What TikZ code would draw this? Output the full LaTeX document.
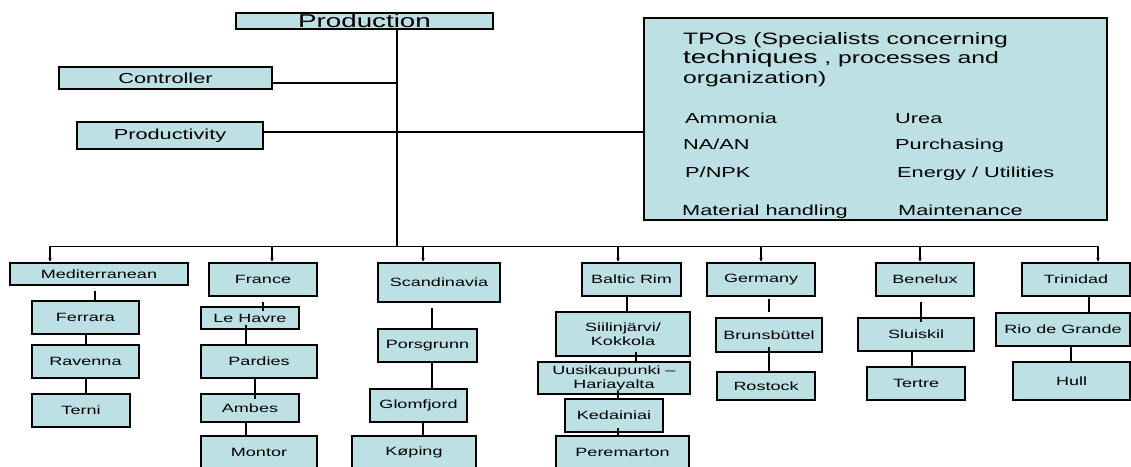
\documentclass[tikz,border=0pt]{standalone}
\usepackage{fontspec}
\setmainfont{Liberation Sans}[FakeStretch=1.5]
\usetikzlibrary{arrows.meta}
\definecolor{boxfill}{RGB}{188,224,228}

\begin{document}
\begin{tikzpicture}[x=1pt,y=-1pt,
    unit/.style={draw,fill=boxfill,line width=1.6pt,inner sep=0pt,align=center,font=\fontsize{12}{14}\selectfont},
    link/.style={line width=1.2pt},
    feed/.style={line width=1.2pt,-{Latex[length=4pt,width=3.5pt]}},
    item/.style={anchor=base west,inner sep=0pt,font=\fontsize{14.5}{17}\selectfont}]
    \useasboundingbox (0,0) rectangle (1131,466);
    \clip (0,0) rectangle (1131,466);

    \node[unit,minimum width=257,minimum height=16,font=\fontsize{18.5}{20}\selectfont] (prod) at (364.5,21) {Production};
    \node[unit,minimum width=213,minimum height=22,font=\fontsize{14.5}{17}\selectfont] (ctrl) at (165.5,78) {Controller};
    \node[unit,minimum width=186,minimum height=27,font=\fontsize{14.5}{17}\selectfont] (prodv) at (170,135.5) {Productivity};
    \node[unit,minimum width=463,minimum height=202] (tpo) at (875.5,119) {};
    \node[anchor=north west,inner sep=0pt,align=left,font=\fontsize{16.5}{19.5}\selectfont] (tpotitle) at (683,32)
      {TPOs (Specialists concerning\\{\fontsize{18.5}{19.5}\selectfont techniques} , processes and\\organization)};
    \node[item] (amm) at (685,123) {Ammonia};
    \node[item] (urea) at (895,123) {Urea};
    \node[item] (naan) at (683,149) {NA/AN};
    \node[item] (purch) at (895,149) {Purchasing};
    \node[item] (pnpk) at (685,177) {P/NPK};
    \node[item] (energy) at (897,177) {Energy / Utilities};
    \node[item] (mat) at (682,215) {Material handling};
    \node[item] (maint) at (898,215) {Maintenance};

    \node[unit,minimum width=178,minimum height=22] (med) at (99,274) {Mediterranean};
    \node[unit,minimum width=107,minimum height=33] (fer) at (85.5,317.5) {Ferrara};
    \node[unit,minimum width=107,minimum height=33] (rav) at (85.5,361.5) {Ravenna};
    \node[unit,minimum width=98,minimum height=33] (ter) at (81,410.5) {Terni};

    \node[unit,minimum width=108,minimum height=33] (fra) at (263,279.5) {France};
    \node[unit,minimum width=98,minimum height=22] (lh) at (250,318) {Le Havre};
    \node[unit,minimum width=116,minimum height=33] (par) at (259,361.5) {Pardies};
    \node[unit,minimum width=98,minimum height=28] (amb) at (250,408) {Ambes};
    \node[unit,minimum width=116,minimum height=33] (mon) at (259,452.5) {Montor};

    \node[unit,minimum width=122,minimum height=39] (sca) at (439,282.5) {Scandinavia};
    \node[unit,minimum width=99,minimum height=33] (por) at (427.5,345.5) {Porsgrunn};
    \node[unit,minimum width=97,minimum height=33] (glo) at (418.5,405.5) {Glomfjord};
    \node[unit,minimum width=124,minimum height=33] (kop) at (414,452.5) {Køping};

    \node[unit,minimum width=99,minimum height=33] (bal) at (631.5,279.5) {Baltic Rim};
    \node[unit,minimum width=134,minimum height=44] (sii) at (623,334) {Siilinjärvi/\\Kokkola};
    \node[unit,minimum width=152,minimum height=32] (uus) at (614,378) {Uusikaupunki –\\Hariayalta};
    \node[unit,minimum width=98,minimum height=33] (ked) at (614,415.5) {Kedainiai};
    \node[unit,minimum width=133,minimum height=33] (per) at (622.5,452.5) {Peremarton};

    \node[unit,minimum width=108,minimum height=33] (ger) at (761,279.5) {Germany};
    \node[unit,minimum width=106,minimum height=34] (bru) at (769,335) {Brunsbüttel};
    \node[unit,minimum width=98,minimum height=28] (ros) at (766,386) {Rostock};

    \node[unit,minimum width=98,minimum height=33] (ben) at (925,279.5) {Benelux};
    \node[unit,minimum width=116,minimum height=33] (slu) at (916,334.5) {Sluiskil};
    \node[unit,minimum width=98,minimum height=33] (tert) at (916,383.5) {Tertre};

    \node[unit,minimum width=108,minimum height=33] (tri) at (1076,279.5) {Trinidad};
    \node[unit,minimum width=134,minimum height=33] (rio) at (1063,329.5) {Rio de Grande};
    \node[unit,minimum width=117,minimum height=38] (hul) at (1071.5,381) {Hull};

    \coordinate (bus) at (397,247);
    \draw[link] ([xshift=32.5]prod.south) -- (bus);
    \draw[link] ([yshift=-5]ctrl.east) -- ++(125,0);
    \draw[link] ([yshift=3.5]prodv.east) -- ([yshift=-13]tpo.west);
    \draw[link] ([xshift=-49,yshift=16]med.north) -- ([xshift=22,yshift=16]tri.north);
    \draw[feed] ([xshift=-49,yshift=16]med.north) -- ([xshift=-49]med.north);
    \draw[feed] ([xshift=9,yshift=16]fra.north) -- ([xshift=9]fra.north);
    \draw[feed] ([xshift=-16,yshift=16]sca.north) -- ([xshift=-16]sca.north);
    \draw[feed] ([xshift=-13.5,yshift=16]bal.north) -- ([xshift=-13.5]bal.north);
    \draw[feed] ([yshift=16]ger.north) -- (ger.north);
    \draw[feed] ([xshift=-5,yshift=16]ben.north) -- ([xshift=-5]ben.north);
    \draw[feed] ([xshift=22,yshift=16]tri.north) -- ([xshift=22]tri.north);

    \draw[link] ([xshift=-4,yshift=-5]med.south) -- ([xshift=9.5]fer.north);
    \draw[link] ([xshift=0.5]fer.south) -- ([xshift=0.5]rav.north);
    \draw[link] ([xshift=0.5]rav.south) -- ([xshift=5]ter.north);

    \draw[link] ([yshift=-5]fra.south) -- ([xshift=13,yshift=-5]lh.north);
    \draw[link] ([xshift=-4,yshift=5]lh.south) -- ([xshift=-13]par.north);
    \draw[link] ([xshift=-4]par.south) -- ([xshift=5,yshift=-6]amb.north);
    \draw[link] ([xshift=-4]amb.south) -- ([xshift=-13,yshift=-2]mon.north);

    \draw[link] ([xshift=-7,yshift=-5]sca.south) -- ([xshift=4.5]por.north);
    \draw[link] ([xshift=4.5]por.south) -- ([xshift=13.5]glo.north);
    \draw[link] ([xshift=4.5]glo.south) -- ([xshift=9]kop.north);

    \draw[link] ([xshift=-4.5]bal.south) -- ([xshift=4]sii.north);
    \draw[link] ([xshift=13,yshift=5]sii.south) -- ([xshift=22]uus.north);
    \draw[link] ([xshift=4,yshift=4]uus.south) -- ([xshift=4]ked.north);
    \draw[link] ([xshift=4,yshift=5]ked.south) -- ([xshift=-4.5,yshift=-2]per.north);

    \draw[link] ([xshift=8,yshift=-2]ger.south) -- ([yshift=5]bru.north);
    \draw[link] ([yshift=6]bru.south) -- ([xshift=3]ros.north);

    \draw[link] ([xshift=-4,yshift=-5]ben.south) -- ([xshift=5,yshift=-5]slu.north);
    \draw[link] ([xshift=-4]slu.south) -- ([xshift=-4]tert.north);

    \draw[link] ([xshift=13]tri.south) -- ([xshift=26]rio.north);
    \draw[link] ([xshift=8]rio.south) -- ([xshift=-0.5]hul.north);
  \end{tikzpicture}
\end{document}
